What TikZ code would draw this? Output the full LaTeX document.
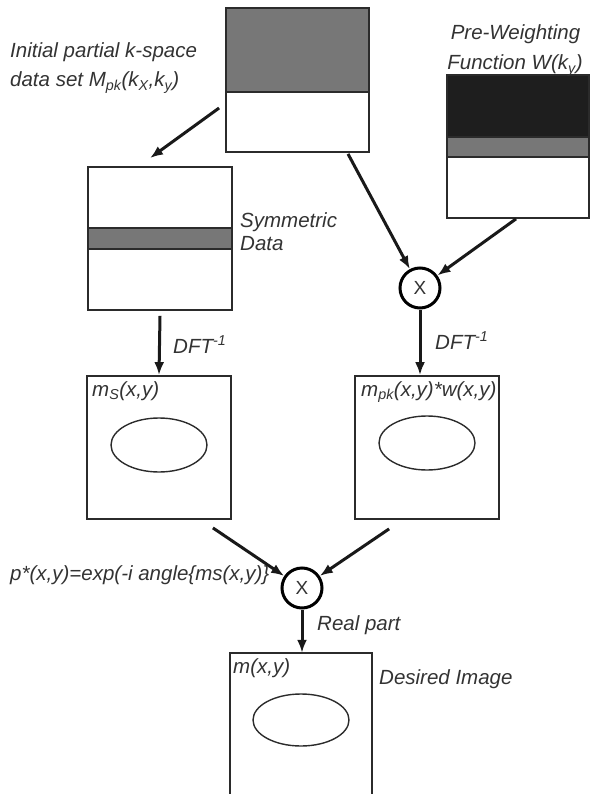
\documentclass[tikz,border=0pt]{standalone}
\usepackage{fontspec}
\setmainfont{Liberation Sans}
\usetikzlibrary{arrows.meta,calc}
\definecolor{ink}{HTML}{2B2B2B}
\definecolor{midgray}{HTML}{777777}
\definecolor{darkfill}{HTML}{1E1E1E}
\definecolor{txt}{HTML}{333333}
\begin{document}
\begin{tikzpicture}[x=1pt,y=-1pt,
  box/.style={draw=ink,line width=1.8pt,inner sep=0pt,minimum width=#1,minimum height=143pt},
  box/.default=144pt,
  mult/.style={circle,draw=black,line width=3pt,minimum size=40pt,inner sep=0pt,
    font=\fontsize{19}{19}\selectfont,text=txt},
  arr/.style={draw=black!90,line width=3pt,-{Latex[length=13pt,width=10pt]}},
  lbl/.style={text=txt,inner sep=0pt,anchor=base west,font=\fontsize{20.5}{24}\selectfont\itshape},
  thinline/.style={draw=ink,line width=1.4pt}]
\useasboundingbox (0,0) rectangle (590,794);
% fills
\fill[midgray] (226,8) rectangle (369,92);
\fill[darkfill] (447,75) rectangle (589,137);
\fill[midgray] (447,137) rectangle (589,157);
\fill[midgray] (88,228) rectangle (232,249);
\draw[thinline,line width=1.6pt] (226,92) -- (369,92);
\draw[thinline,line width=1.6pt] (447,137) -- (589,137);
\draw[thinline,line width=1.6pt] (447,157) -- (589,157);
\draw[thinline,line width=1.8pt] (88,228) -- (232,228);
\draw[thinline,line width=1.8pt] (88,249) -- (232,249);
% boxes
\node[box=143pt,minimum height=144pt] (topbox) at (297.5,80) {};
\node[box=142pt] (wbox) at (518,146.5) {};
\node[box] (symbox) at (160,238.5) {};
\node[box] (msbox) at (159,447.5) {};
\node[box] (pkbox) at (427,447.5) {};
\node[inner sep=0pt,minimum width=142pt,minimum height=141pt] (outbox) at (301,723.5) {};
\draw[thinline,line width=1.8pt] (outbox.south west) -- (outbox.north west) -- (outbox.north east) -- (outbox.south east);
% ellipses
\draw[thinline] (159,445) ellipse [x radius=48, y radius=27];
\draw[thinline] (427,443) ellipse [x radius=48, y radius=27];
\draw[thinline] (301,720) ellipse [x radius=48, y radius=26];
% multipliers
\node[mult] (x1) at (420,288) {X};
\node[mult] (x2) at (302,588) {X};
% labels
\node[lbl] (lblinit1) at (10,58) {Initial partial k-space};
\node[lbl] (lblinit2) at (10,87) {data set M\textsubscript{pk}(k\textsubscript{X},k\textsubscript{y})};
\node[lbl,anchor=base] (lblw1) at (515.5,40) {Pre-Weighting};
\node[lbl,anchor=base] (lblw2) at (515,70) {Function W(k\textsubscript{y})};
\node[lbl] (lblsym1) at (240,227) {Symmetric};
\node[lbl] (lblsym2) at (240,251) {Data};
\node[lbl] (lbldft1) at (173,353) {DFT\textsuperscript{-1}};
\node[lbl] (lbldft2) at (435,349) {DFT\textsuperscript{-1}};
\node[lbl] (lblms) at (92,396) {m\textsubscript{S}(x,y)};
\node[lbl] (lblpk) at (361,396) {m\textsubscript{pk}(x,y)*w(x,y)};
\node[lbl] (lblp) at (10,580) {p*(x,y)=exp(-i angle\{ms(x,y)\}};
\node[lbl] (lblreal) at (317,630) {Real part};
\node[lbl] (lblm) at (233,673) {m(x,y)};
\node[lbl] (lbldes) at (379,684) {Desired Image};
% connectors
\draw[arr] ($(topbox.west)+(-6,28)$) -- ($(symbox.north)+(-10,-8)$);
\draw[arr] ($(topbox.south)+(50.5,1)$) -- (x1);
\draw[arr] ($(wbox.south)+(-2,0)$) -- (x1);
\draw[arr] ($(symbox.south)+(0,5)$) -- (msbox.north);
\draw[arr] (x1.south) -- (x1.south |- pkbox.north);
\draw[arr] ($(msbox.south east)+(-19,8)$) -- (x2);
\draw[arr] ($(pkbox.south west)+(35,9)$) -- (x2);
\draw[arr] (x2.south) -- (x2.south |- outbox.north);
\end{tikzpicture}
\end{document}
